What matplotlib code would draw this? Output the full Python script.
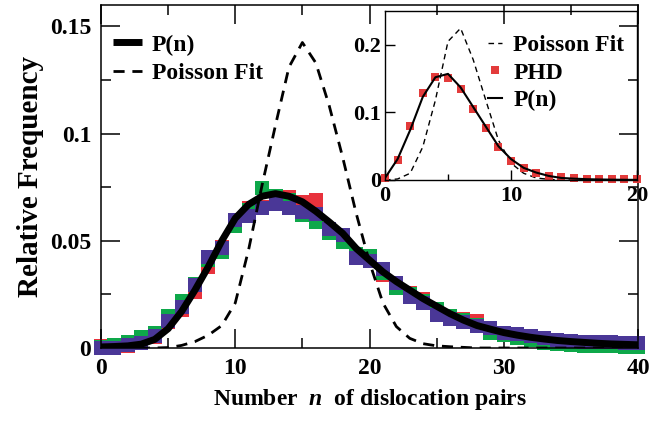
import matplotlib
matplotlib.use("Agg")
import matplotlib.pyplot as plt
from matplotlib.ticker import MultipleLocator

# main panel: distribution of dislocation pairs
n_main = list(range(41))
p_curve = [0.0005, 0.0007, 0.001, 0.0018, 0.004, 0.009, 0.017, 0.027, 0.038, 0.050,
           0.0605, 0.067, 0.0708, 0.072, 0.0708, 0.0682, 0.0638, 0.0588, 0.0535, 0.0465,
           0.041, 0.0355, 0.031, 0.027, 0.023, 0.0195, 0.016, 0.013, 0.0105, 0.0088,
           0.0072, 0.006, 0.005, 0.0042, 0.0035, 0.003, 0.0026, 0.0022, 0.0019, 0.0017,
           0.0015]
poisson_main = [0, 0, 0, 0, 0, 0.0002, 0.0012, 0.003, 0.006, 0.0105,
                0.021, 0.046, 0.076, 0.104, 0.131, 0.1425, 0.133, 0.113, 0.089, 0.063,
                0.040, 0.021, 0.010, 0.0045, 0.002, 0.001, 0.0006, 0.0003, 0, 0,
                0, 0, 0, 0, 0, 0, 0, 0, 0, 0, 0]
purple = [0.0, 0.0, 0.0012, 0.0025, 0.0058, 0.0125, 0.0192, 0.0295, 0.0425, 0.0468,
          0.0598, 0.0615, 0.0655, 0.067, 0.0655, 0.0635, 0.0625, 0.0555, 0.0525, 0.042,
          0.0408, 0.0369, 0.0304, 0.024, 0.021, 0.0154, 0.0135, 0.012, 0.0104, 0.0092,
          0.0069, 0.0066, 0.0055, 0.0045, 0.0037, 0.0034, 0.003, 0.0028, 0.0026, 0.0025,
          0.0024]
green = [0.0005, 0.0012, 0.0028, 0.0052, 0.0072, 0.0148, 0.0218, 0.030, 0.041, 0.045,
         0.057, 0.0645, 0.0745, 0.071, 0.069, 0.062, 0.059, 0.0535, 0.0495, 0.044,
         0.043, 0.035, 0.028, 0.025, 0.022, 0.018, 0.015, 0.013, 0.0108, 0.007,
         0.006, 0.0045, 0.0035, 0.0025, 0.002, 0.0015, 0.0009, 0.0007, 0.0008, 0.0006,
         0.0005]
red = [0.001, 0.0005, 0.0008, 0.003, 0.005, 0.012, 0.0178, 0.0262, 0.038, 0.047,
       0.058, 0.0655, 0.066, 0.070, 0.0705, 0.068, 0.069, 0.054, 0.050, 0.043,
       0.041, 0.034, 0.029, 0.0255, 0.023, 0.018, 0.0148, 0.0135, 0.0125, 0.0085,
       0.0065, 0.005, 0.0038, 0.003, 0.0022, 0.0015, 0.0012, 0.001, 0.0009, 0.0008,
       0.0006]

# inset panel
n_inset = list(range(21))
p_inset = [0.003, 0.031, 0.074, 0.123, 0.152, 0.157, 0.137, 0.108, 0.079, 0.050,
           0.031, 0.018, 0.011, 0.006, 0.003, 0.002, 0.0012, 0.0008, 0.0005, 0.0003,
           0.0002]
poisson_inset = [0.0, 0.0015, 0.010, 0.049, 0.118, 0.205, 0.2245, 0.178, 0.118, 0.059,
                 0.025, 0.010, 0.003, 0.001, 0, 0, 0, 0, 0, 0, 0]
phd = [0.003, 0.03, 0.080, 0.129, 0.152, 0.151, 0.134, 0.105, 0.077, 0.049,
       0.0286, 0.0175, 0.010, 0.006, 0.004, 0.003, 0.002, 0.0015, 0.001, 0.001,
       0.001]

plt.rcParams['font.family'] = 'Liberation Serif'
plt.rcParams['font.weight'] = 'bold'
plt.rcParams['axes.labelweight'] = 'bold'
plt.rcParams['mathtext.fontset'] = 'custom'
plt.rcParams['mathtext.it'] = 'Liberation Serif:italic:bold'
plt.rcParams['mathtext.rm'] = 'Liberation Serif:bold'

fig = plt.figure(figsize=(6.52, 4.22), dpi=100)
W, H = 652, 422
ax = fig.add_axes([101 / W, 1 - 348 / H, 537 / W, 343 / H])

sq = dict(marker='s', ms=9.6, mew=0, ls='none', clip_on=False, zorder=2)
ax.plot(n_main, red, color='#e8323c', **sq)
ax.plot(n_main, green, color='#0ea84a', **sq)
ax.plot(n_main, purple, color='#4a3797', **sq)
ax.plot(n_main, p_curve, color='black', lw=5, zorder=4, label='P(n)',
        solid_capstyle='butt')
ax.plot(n_main, poisson_main, color='black', lw=2.0, dashes=(4, 2.8), zorder=3,
        label='Poisson Fit')

ax.set_xlim(0, 40)
ax.set_ylim(0, 0.16)
ax.xaxis.set_major_locator(MultipleLocator(10))
ax.xaxis.set_minor_locator(MultipleLocator(5))
ax.yaxis.set_major_locator(MultipleLocator(0.05))
ax.yaxis.set_minor_locator(MultipleLocator(0.025))
ax.set_yticks([0, 0.05, 0.1, 0.15])
ax.set_yticklabels(['0', '0.05', '0.1', '0.15'])
ax.tick_params(which='both', direction='in', top=True, right=True, width=1.1)
ax.tick_params(which='major', length=13.5, labelsize=17)
ax.tick_params(which='minor', length=7)
ax.tick_params(axis='x', pad=7)
ax.tick_params(axis='y', pad=7)
for s in ax.spines.values():
    s.set_linewidth(1.1)

ax.set_xlabel('Number  $n$  of dislocation pairs', fontsize=17, labelpad=6)
ax.set_ylabel('Relative Frequency', fontsize=21, labelpad=4)

ax.legend(loc='upper left', bbox_to_anchor=(0.022, 0.915), frameon=False,
          fontsize=17, handlelength=1.25, handletextpad=0.4, borderpad=0,
          borderaxespad=0, labelspacing=0.3)

# inset
ins = fig.add_axes([385 / W, 1 - 180 / H, 252 / W, 169 / H])
ins.patch.set_alpha(0)
ins.plot(n_inset, poisson_inset, color='black', lw=1.0, dashes=(4, 3),
         label='Poisson Fit')
ins.plot(n_inset, phd, color='#e33b3b', marker='s', ms=5.2, mew=0, ls='none',
         clip_on=False, label='PHD')
ins.plot(n_inset, p_inset, color='black', lw=1.5, label='P(n)')
ins.set_xlim(0, 20)
ins.set_ylim(0, 0.25)
ins.xaxis.set_major_locator(MultipleLocator(10))
ins.xaxis.set_minor_locator(MultipleLocator(5))
ins.set_yticks([0, 0.1, 0.2])
ins.set_yticklabels(['0', '0.1', '0.2'])
ins.tick_params(which='both', direction='in', width=1.0)
ins.tick_params(which='major', length=7, labelsize=16)
ins.tick_params(which='minor', length=4)
ins.tick_params(axis='x', pad=4)
ins.tick_params(axis='y', pad=3)
for s in ins.spines.values():
    s.set_linewidth(1.0)
ins.legend(loc='upper left', bbox_to_anchor=(0.41, 0.86), frameon=False,
           fontsize=17, handlelength=0.6, handletextpad=0.45, borderpad=0,
           borderaxespad=0, labelspacing=0.25, markerscale=1.0)

fig.savefig('out.png', dpi=100)
